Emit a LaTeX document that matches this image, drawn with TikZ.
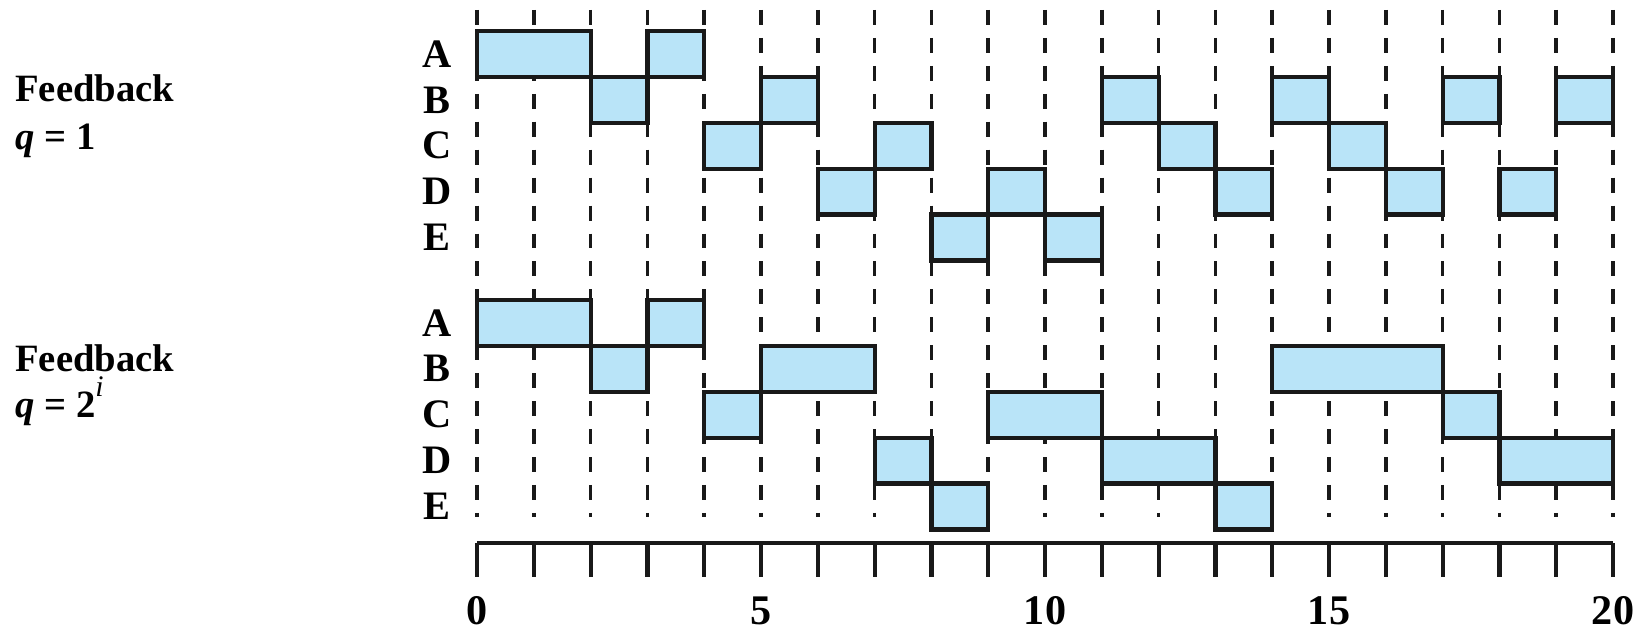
\documentclass[tikz,border=0pt]{standalone}
\usepackage{fontspec}
\setmainfont{Liberation Serif}
\usepackage{xcolor}
\definecolor{slotblue}{RGB}{185,228,248}
\tikzset{
  slot/.style={draw=black!90, fill=slotblue, line width=2.4pt},
  gridline/.style={black!90, line width=2pt, dash pattern=on 8.5pt off 7.4pt},
  axisline/.style={black!90, line width=2.4pt},
  rowlabel/.style={font=\fontsize{23}{27}\selectfont\bfseries, inner sep=0pt},
  ticklabel/.style={font=\fontsize{24}{28}\selectfont\bfseries, inner sep=0pt},
  grouplabel/.style={font=\fontsize{22}{26}\selectfont\bfseries, anchor=base west, inner sep=0pt}
}

\begin{document}
\begin{tikzpicture}[x=1.136cm,y=-0.918cm]
                \useasboundingbox (-8.398,-0.675) rectangle (20.598,13.115);

                % time lines
                \foreach \t in {0,...,20}
                    \draw[gridline] (\t,-0.4575) -- (\t,10.588);

                % feedback q = 1
                \foreach \r/\a/\b in {0/0/2, 0/3/4,
                        1/2/3, 1/5/6, 1/11/12, 1/14/15, 1/17/18, 1/19/20,
                        2/4/5, 2/7/8, 2/12/13, 2/15/16,
                        3/6/7, 3/9/10, 3/13/14, 3/16/17, 3/18/19,
                        4/8/9, 4/10/11}
                    \draw[slot] (\a,\r) rectangle (\b,\r+1);
                \foreach \n/\r in {A/0,B/1,C/2,D/3,E/4}
                    \node[rowlabel] (one\n) at (-0.704,\r+0.5) {\n};
                \node[grouplabel] (fbone) at (-8.134,1.54) {Feedback};
                \node[grouplabel] (qone) at (-8.134,2.59) {\textit{q} = 1};

                % feedback q = 2^i
                \begin{scope}[shift={(0,5.86)}]
                    \foreach \r/\a/\b in {0/0/2, 0/3/4,
                            1/2/3, 1/5/7, 1/14/17,
                            2/4/5, 2/9/11, 2/17/18,
                            3/7/8, 3/11/13, 3/18/20,
                            4/8/9, 4/13/14}
                        \draw[slot] (\a,\r) rectangle (\b,\r+1);
                    \foreach \n/\r in {A/0,B/1,C/2,D/3,E/4}
                        \node[rowlabel] (two\n) at (-0.704,\r+0.5) {\n};
                    \node[grouplabel] (fbtwo) at (-8.134,1.56) {Feedback};
                    \node[grouplabel] (qtwo) at (-8.134,2.57) {\textit{q} = 2\raisebox{0.55em}{\fontsize{17}{20}\selectfont\normalfont\itshape i}};
                \end{scope}

                % time axis
                \draw[axisline] (0,11.161) -- (20,11.161);
                \foreach \t in {0,...,20}
                    \draw[axisline] (\t,11.161) -- (\t,11.889);
                \foreach \t in {0,5,...,20}
                    \node[ticklabel] (tick\t) at (\t,12.636) {\t};

            \end{tikzpicture}
\end{document}
